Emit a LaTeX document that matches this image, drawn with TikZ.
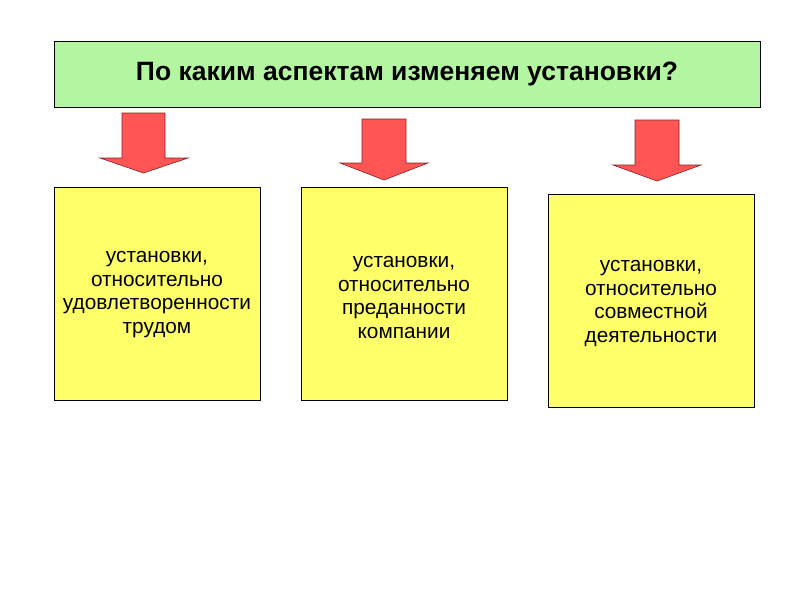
\documentclass[tikz,border=0pt]{standalone}
\usepackage{fontspec}
\setmainfont{Liberation Sans}
\definecolor{titlegreen}{HTML}{B4F5A2}
\definecolor{boxyellow}{HTML}{FFFF6A}
\definecolor{arrowred}{HTML}{FF5555}
\definecolor{arrowedge}{HTML}{8A2020}
\begin{document}
\begin{tikzpicture}[x=1pt,y=-1pt,
  titlebox/.style={draw=black, line width=0.8pt, fill=titlegreen, minimum width=706pt, minimum height=66pt, inner sep=0pt, font=\fontsize{26.5}{30}\selectfont\bfseries},
  ybox/.style={draw=black, line width=0.8pt, fill=boxyellow, minimum width=206pt, minimum height=213pt, inner sep=0pt},
  ytext/.style={inner sep=0pt, align=center, font=\fontsize{20.8}{23.8}\selectfont},
  redarrow/.style={fill=arrowred, draw=arrowedge, line width=0.6pt, line join=miter}]
\useasboundingbox (0,0) rectangle (800,600);
\fill[white] (0,0) rectangle (800,600);
\node[titlebox] (title) at (407,74) {По каким аспектам изменяем установки?};
\node[ybox] (b1) at (157,293.5) {};
\node[ybox] (b2) at (404,293.5) {};
\node[ybox] (b3) at (651,300.5) {};
\node[ytext] (t1) at ([yshift=-1pt]b1.center) {установки,\\относительно\\удовлетворенности\\трудом};
\node[ytext] (t2) at ([yshift=-4pt]b2.center) {установки,\\относительно\\преданности\\компании};
\node[ytext] (t3) at ([yshift=-3pt]b3.center) {установки,\\относительно\\совместной\\деятельности};
% arrows
\draw[redarrow] (122,113) -- (165,113) -- (165,158) -- (188,158) -- (143.5,173) -- (100,158) -- (122,158) -- cycle;
\draw[redarrow] (362,119) -- (406,119) -- (406,163) -- (428,163) -- (384,180) -- (340,163) -- (362,163) -- cycle;
\draw[redarrow] (635,120) -- (679,120) -- (679,165) -- (701,165) -- (657,181) -- (613,165) -- (635,165) -- cycle;
\end{tikzpicture}
\end{document}
